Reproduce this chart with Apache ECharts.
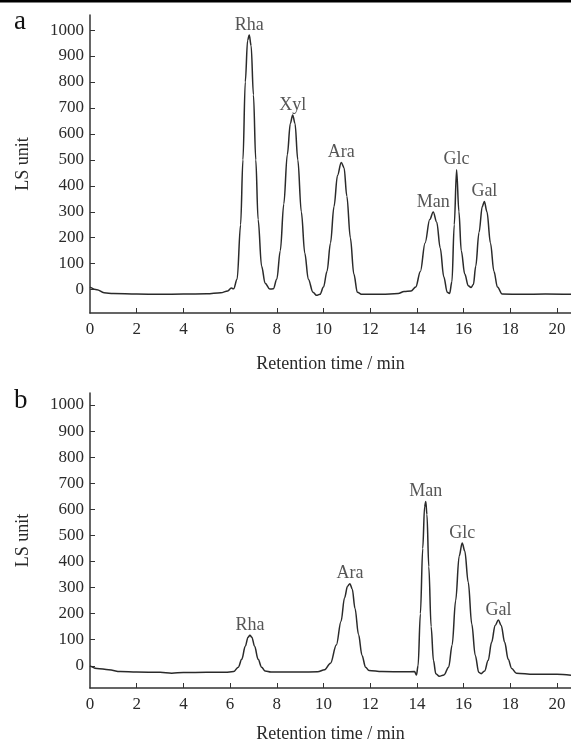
<!DOCTYPE html>
<html>
<head>
<meta charset="utf-8">
<script src="https://cdn.jsdelivr.net/npm/echarts@6/dist/echarts.min.js"></script>
<style>
html,body{margin:0;padding:0;background:#fff;}
#chart{width:571px;height:749px;}
</style>
</head>
<body>
<div id="chart"></div>
<script>
// ---------- DATA ----------
const yTicks = [0, 100, 200, 300, 400, 500, 600, 700, 800, 900, 1000];
const xTicks = [0, 2, 4, 6, 8, 10, 12, 14, 16, 18, 20];

// Panel a: mixed standard chromatogram (retention time in min, LS unit)
const timeA = [0.0, 0.3, 0.6, 1.0, 2.0, 3.0, 4.0, 5.0, 5.6, 5.9, 6.05, 6.15, 6.3, 6.45, 6.55, 6.65, 6.75, 6.82, 6.9, 7.0, 7.1, 7.2, 7.35, 7.5, 7.7, 7.85, 8.0, 8.15, 8.3, 8.45, 8.58, 8.68, 8.78, 8.9, 9.05, 9.2, 9.35, 9.55, 9.7, 9.85, 10.0, 10.15, 10.3, 10.45, 10.6, 10.76, 10.88, 11.0, 11.15, 11.3, 11.45, 11.65, 12.5, 13.2, 13.45, 13.75, 13.95, 14.15, 14.35, 14.55, 14.7, 14.85, 15.0, 15.15, 15.3, 15.4, 15.5, 15.6, 15.7, 15.8, 15.9, 16.05, 16.2, 16.32, 16.42, 16.52, 16.66, 16.8, 16.89, 17.0, 17.15, 17.3, 17.45, 17.65, 18.5, 19.5, 20.6];
const signalA = [10, 0, -12, -15, -17, -18, -17, -16, -12, -5, 6, 3, 40, 250, 500, 800, 960, 981, 940, 750, 500, 270, 90, 25, 2, 3, 40, 150, 330, 520, 640, 673, 640, 500, 300, 140, 40, -10, -22, -18, 10, 70, 180, 320, 440, 490, 470, 360, 200, 60, -10, -18, -18, -15, -7, -5, 10, 70, 180, 270, 299, 260, 160, 50, -10, -15, 30, 250, 462, 300, 150, 60, 15, 8, 20, 90, 220, 320, 340, 300, 180, 70, 10, -17, -18, -17, -18];
const peakNamesA = ['Rha', 'Xyl', 'Ara', 'Man', 'Glc', 'Gal'];
const peakTimeA = [6.82, 8.68, 10.76, 14.70, 15.70, 16.89];
const peakHeightA = [981, 673, 490, 299, 462, 340];

// Panel b: sample chromatogram
const timeB = [0.0, 0.3, 0.8, 1.3, 2.0, 3.0, 3.5, 4.0, 5.0, 5.8, 6.15, 6.35, 6.5, 6.65, 6.77, 6.85, 6.93, 7.05, 7.2, 7.35, 7.5, 7.75, 9.0, 9.75, 10.05, 10.3, 10.55, 10.75, 10.9, 11.03, 11.13, 11.23, 11.35, 11.5, 11.65, 11.8, 11.95, 12.5, 13.5, 13.9, 13.98, 14.05, 14.15, 14.25, 14.33, 14.38, 14.43, 14.51, 14.61, 14.71, 14.81, 14.96, 15.16, 15.36, 15.51, 15.66, 15.81, 15.94, 16.05, 16.2, 16.35, 16.5, 16.65, 16.75, 16.9, 17.05, 17.2, 17.35, 17.49, 17.61, 17.76, 17.91, 18.06, 18.26, 19.0, 20.0, 20.6];
const signalB = [0, -10, -15, -22, -24, -25, -28, -26, -25, -25, -22, -5, 25, 75, 110, 117, 110, 75, 25, -5, -20, -24, -24, -23, -15, 10, 80, 170, 260, 305, 315, 295, 220, 120, 40, -5, -18, -22, -23, -22, -35, 0, 200, 450, 610, 630, 580, 380, 150, 20, -30, -40, -35, -5, 80, 250, 420, 471, 440, 320, 160, 40, -25, -30, -20, 20, 90, 155, 176, 155, 90, 25, -10, -28, -32, -32, -36];
const peakNamesB = ['Rha', 'Ara', 'Man', 'Glc', 'Gal'];
const peakTimeB = [6.85, 11.13, 14.38, 15.94, 17.49];
const peakHeightB = [117, 315, 630, 471, 176];

// ---------- CHART ----------
const FONT = '"Liberation Serif", "DejaVu Serif", serif';
const TXT = '#2a2a2a';
const LINE = '#333';

function pairs(t, v) { return t.map((x, i) => [x, v[i]]); }
function labelPts(names, t, h) { return names.map((n, i) => ({ name: n, value: [t[i], h[i]] })); }

function xAxisDef(gridIndex, nameGap) {
  return {
    gridIndex, type: 'value', min: 0, max: 20.6,
    name: 'Retention time / min', nameLocation: 'middle', nameGap: nameGap,
    nameTextStyle: { fontFamily: FONT, fontSize: 18, color: TXT },
    axisLine: { onZero: false, lineStyle: { color: LINE, width: 1.5 } },
    axisTick: { inside: true, length: 5, lineStyle: { color: LINE }, customValues: xTicks.slice(1) },
    axisLabel: { fontFamily: FONT, fontSize: 17, color: TXT, margin: 8, customValues: xTicks,
                 formatter: v => String(v) },
    splitLine: { show: false }
  };
}
function yAxisDef(gridIndex, min, max) {
  return {
    gridIndex, type: 'value', min: min, max: max,
    name: 'LS unit', nameLocation: 'middle', nameGap: 58,
    nameTextStyle: { fontFamily: FONT, fontSize: 18, color: TXT },
    axisLine: { show: true, onZero: false, lineStyle: { color: LINE, width: 1.5 } },
    axisTick: { show: true, inside: true, length: 5, lineStyle: { color: LINE }, customValues: yTicks },
    axisLabel: { fontFamily: FONT, fontSize: 17, color: TXT, margin: 6, customValues: yTicks,
                 formatter: v => String(v) },
    splitLine: { show: false }
  };
}
function traceSeries(idx, data) {
  return {
    type: 'line', xAxisIndex: idx, yAxisIndex: idx, data: data,
    showSymbol: false, smooth: 0.35, smoothMonotone: 'x',
    lineStyle: { color: '#2a2a2a', width: 1.5 }, silent: true, animation: false
  };
}
function labelSeries(idx, data) {
  return {
    type: 'scatter', xAxisIndex: idx, yAxisIndex: idx, data: data,
    symbolSize: 0, silent: true, animation: false,
    label: { show: true, position: 'top', distance: 1, formatter: '{b}',
             fontFamily: FONT, fontSize: 18, color: TXT }
  };
}

const chart = echarts.init(document.getElementById('chart'), null, { renderer: 'canvas' });
chart.setOption({
  backgroundColor: '#fff',
  animation: false,
  grid: [
    { left: 90, right: 0, top: 15, height: 298 },
    { left: 90, right: 0, top: 393, height: 295 }
  ],
  xAxis: [xAxisDef(0, 42), xAxisDef(1, 37)],
  yAxis: [yAxisDef(0, -90, 1058), yAxisDef(1, -85, 1046)],
  series: [
    traceSeries(0, pairs(timeA, signalA)),
    labelSeries(0, labelPts(peakNamesA, peakTimeA, peakHeightA)),
    traceSeries(1, pairs(timeB, signalB)),
    labelSeries(1, labelPts(peakNamesB, peakTimeB, peakHeightB))
  ],
  graphic: [
    { type: 'rect', left: 0, top: 0, shape: { width: 571, height: 2.5 }, style: { fill: '#000' } },
    { type: 'text', left: 14, top: 8, style: { text: 'a', font: '27px ' + FONT, fill: '#111' } },
    { type: 'text', left: 14, top: 387, style: { text: 'b', font: '27px ' + FONT, fill: '#111' } }
  ]
});
</script>
</body>
</html>
